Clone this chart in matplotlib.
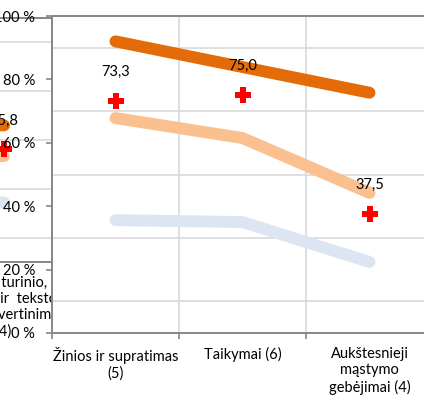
import matplotlib.pyplot as plt
import numpy as np

plt.rcParams['font.family'] = ['Lato', 'DejaVu Sans']

# main chart
categories = ['Žinios ir supratimas\n(5)', 'Taikymai (6)', 'Aukštesnieji\nmąstymo\ngebėjimai (4)']
high = [92.0, 83.9, 75.8]
mid = [67.8, 61.5, 44.2]
low = [35.6, 35.0, 22.4]
result = [73.3, 75.0, 37.5]
result_labels = ['73,3', '75,0', '37,5']

# neighbouring chart, only its last category is visible
left_categories = ['', '', 'Rašto turinio,\nkalbos, ir  teksto\nkalbinės vertinimas\n(4)']
left_high = [58.0, 57.0, 56.0]
left_mid = [45.0, 44.0, 43.4]
left_low = [27.0, 26.0, 24.4]
left_result = [50.0, 48.0, 46.5]
left_result_labels = ['50,0', '48,0', '45,8']

W, H = 424, 401
fs = 10.5
fig = plt.figure(figsize=(W / 100, H / 100), dpi=100)


def box(x0, top, w, h):
    return [x0 / W, 1 - (top + h) / H, w / W, h / H]


def style(ax, cats, labels):
    x = np.arange(len(cats))
    ax.set_xlim(-0.5, len(cats) - 0.5)
    ax.set_ylim(0, 100)
    ax.set_xticks(x)
    ax.set_xticklabels(cats, fontsize=fs, linespacing=1.2)
    ax.set_xticks(np.arange(-0.5, len(cats), 1.0), minor=True)
    ax.set_yticks(np.arange(0, 101, 20))
    ax.set_yticklabels(labels, fontsize=fs)
    ax.set_yticks(np.arange(0, 101, 10), minor=True)
    ax.tick_params(axis='x', which='major', length=0, pad=10)
    ax.tick_params(axis='x', which='minor', length=4, color='#868686', width=1.2)
    ax.tick_params(axis='y', which='major', length=4, color='#868686', width=1.2, pad=8)
    ax.tick_params(axis='y', which='minor', length=0)
    ax.grid(True, which='minor', color='#D9D9D9', lw=1.2)
    ax.set_axisbelow(True)
    for s in ax.spines.values():
        s.set_color('#868686')
        s.set_linewidth(1.4)
    ax.spines['right'].set_visible(False)
    return x


ax2 = fig.add_axes(box(-313.5, 18, 381, 244))
ax2.set_zorder(0)
x2 = style(ax2, left_categories, [''] * 6)
ax2.plot(x2, left_high, color='#E36C09', lw=8.6, solid_capstyle='round')
ax2.plot(x2, left_mid, color='#FAC090', lw=8.6, solid_capstyle='round')
ax2.plot(x2, left_low, color='#DCE6F2', lw=8.6, solid_capstyle='round')
ax2.plot(x2, left_result, 'P', color='#FF0000', ms=11.5, mew=0)
for xi, v, t in zip(x2, left_result, left_result_labels):
    ax2.annotate(t, (xi, v), xytext=(0, 20), textcoords='offset points',
                 ha='center', va='center', fontsize=fs)

ax = fig.add_axes(box(52, 16, 381, 317))
ax.set_zorder(1)
ax.set_facecolor('white')
x = style(ax, categories, ['0 %', '20 %', '40 %', '60 %', '80 %', '100 %'])
ax.plot(x, high, color='#E36C09', lw=8.6, solid_capstyle='round')
ax.plot(x, mid, color='#FAC090', lw=8.6, solid_capstyle='round')
ax.plot(x, low, color='#DCE6F2', lw=8.6, solid_capstyle='round')
ax.plot(x, result, 'P', color='#FF0000', ms=11.5, mew=0)
for xi, v, t in zip(x, result, result_labels):
    ax.annotate(t, (xi, v), xytext=(0, 21), textcoords='offset points',
                ha='center', va='center', fontsize=fs)

fig.savefig('out.png', dpi=100)
